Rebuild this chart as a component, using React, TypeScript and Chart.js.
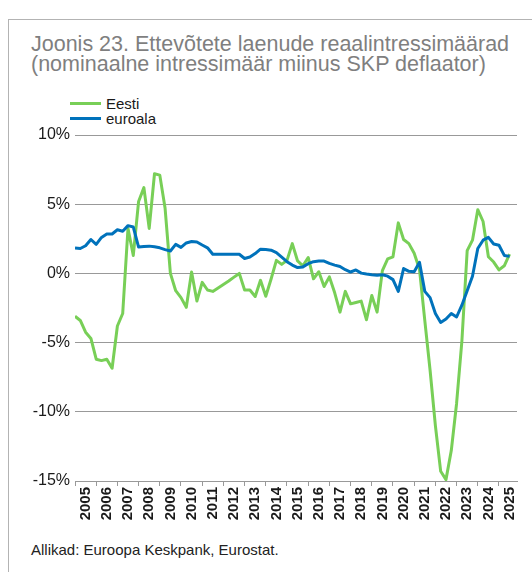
import React, { useEffect, useRef } from "react";
import { Chart, registerables } from "chart.js";

Chart.register(...registerables);

const startYear = 2005;

// Quarterly values, 2005Q1 .. 2025Q3 (%)
const eesti = [
  -3.1, -3.4, -4.25, -4.7,
  -6.2, -6.3, -6.2, -6.85,
  -3.8, -2.9, 3.25, 1.3,
  5.2, 6.2, 3.25, 7.2,
  7.1, 4.7, 0.0, -1.25,
  -1.75, -2.45, 0.1, -2.0,
  -0.65, -1.2, -1.3, -1.05,
  -0.8, -0.55, -0.27, 0.0,
  -1.2, -1.2, -1.67, -0.5,
  -1.65, -0.4, 0.94, 0.65,
  0.94, 2.15, 0.9, 0.55,
  1.15, -0.39, 0.12, -0.95,
  -0.25, -1.4, -2.8, -1.3,
  -2.2, -2.1, -2.0, -3.35,
  -1.6, -2.8, 0.2, 1.05,
  1.2, 3.65, 2.45, 2.15,
  1.45, 0.3, -3.4, -7.0,
  -11.0, -14.3, -14.9, -12.8,
  -9.4, -4.9, 1.65, 2.4,
  4.6, 3.75, 1.2, 0.82,
  0.25, 0.55, 1.4,
];

const euroala = [
  1.84, 1.8, 2.0, 2.45,
  2.1, 2.6, 2.85, 2.85,
  3.15, 3.05, 3.45, 3.35,
  1.9, 1.95, 1.97, 1.92,
  1.85, 1.72, 1.62, 2.1,
  1.88, 2.2, 2.3, 2.27,
  2.05, 1.85, 1.38, 1.38,
  1.38, 1.38, 1.38, 1.38,
  1.08, 1.18, 1.43, 1.75,
  1.72, 1.68, 1.5, 1.18,
  0.85, 0.6, 0.42, 0.47,
  0.7, 0.85, 0.89, 0.89,
  0.72, 0.6, 0.5, 0.27,
  0.1, 0.25, 0.02, -0.05,
  -0.1, -0.14, -0.1, -0.2,
  -0.45, -1.3, 0.35, 0.15,
  0.12, 0.8, -1.3, -1.75,
  -2.9, -3.55, -3.3, -2.9,
  -3.15, -2.3, -1.25, -0.2,
  1.8, 2.4, 2.6, 2.12,
  2.03, 1.3, 1.23,
];

const yearLabels = [
  "2005", "2006", "2007", "2008", "2009", "2010", "2011", "2012", "2013", "2014",
  "2015", "2016", "2017", "2018", "2019", "2020", "2021", "2022", "2023", "2024", "2025",
];

const yTicks = [-15, -10, -5, 0, 5, 10];

const seriesNames = ["Eesti", "euroala"];
const GREEN = "#78cf57";
const BLUE = "#0072bb";
const FONT = '"Liberation Sans", Arial, Helvetica, sans-serif';

const toPoints = (vals: number[]) =>
  vals.map((v, i) => ({ x: startYear + i / 4, y: v }));

export default function App() {
  const canvasRef = useRef<HTMLCanvasElement | null>(null);

  useEffect(() => {
    if (!canvasRef.current) return;
    const chart = new Chart(canvasRef.current, {
      type: "line",
      data: {
        datasets: [
          {
            label: seriesNames[0],
            data: toPoints(eesti),
            borderColor: GREEN,
            backgroundColor: GREEN,
            borderWidth: 3,
            pointRadius: 0,
            tension: 0,
            borderJoinStyle: "round",
            order: 1,
          },
          {
            label: seriesNames[1],
            data: toPoints(euroala),
            borderColor: BLUE,
            backgroundColor: BLUE,
            borderWidth: 3,
            pointRadius: 0,
            tension: 0,
            borderJoinStyle: "round",
            order: 0,
          },
        ],
      },
      options: {
        animation: false,
        responsive: false,
        maintainAspectRatio: false,
        layout: { padding: { top: 15, right: 15, left: 0, bottom: 0 } },
        plugins: { legend: { display: false }, tooltip: { enabled: false } },
        scales: {
          x: {
            type: "linear",
            min: startYear,
            max: 2025.85,
            afterBuildTicks: (scale: any) => {
              const t: { value: number }[] = [];
              yearLabels.forEach((_, i) => {
                t.push({ value: startYear + i });
                t.push({ value: startYear + i + 0.5 });
              });
              scale.ticks = t;
            },
            afterFit: (scale: any) => {
              scale.height = 59;
            },
            ticks: {
              autoSkip: false,
              minRotation: 90,
              maxRotation: 90,
              padding: 1,
              color: "#1a1a1a",
              font: { family: FONT, size: 15, weight: "bold" },
              callback: (v: any) => {
                const n = Number(v);
                if (Number.isInteger(n)) return "";
                return yearLabels[Math.floor(n) - startYear];
              },
            },
            grid: {
              drawOnChartArea: false,
              tickLength: 5,
              tickColor: (ctx: any) =>
                ctx.tick && Number.isInteger(ctx.tick.value) ? "#999999" : "rgba(0,0,0,0)",
              lineWidth: 1,
            },
            border: { display: true, color: "#999999", width: 1 },
          },
          y: {
            min: -15,
            max: 10,
            afterBuildTicks: (scale: any) => {
              scale.ticks = yTicks.map((v) => ({ value: v }));
            },
            afterFit: (scale: any) => {
              scale.width = 75;
            },
            ticks: {
              padding: 5,
              color: "#1a1a1a",
              font: { family: FONT, size: 16 },
              callback: (v: any) => `${v}%`,
            },
            grid: { color: "#999999", lineWidth: 1, drawTicks: false },
            border: { display: false },
          },
        },
      },
    } as any);
    return () => chart.destroy();
  }, []);

  return (
    <div
      style={{
        position: "absolute",
        left: 0,
        top: 0,
        width: 532,
        height: 572,
        overflow: "hidden",
        fontFamily: FONT,
        background: "#ffffff",
      }}
    >
      <div
        style={{
          position: "absolute",
          left: 8,
          top: 19,
          width: 530,
          height: 560,
          borderTop: "1px solid #b3b3b3",
          borderLeft: "1px solid #b3b3b3",
        }}
      />
      <div
        style={{
          position: "absolute",
          left: 31,
          top: 34,
          fontSize: 21.5,
          lineHeight: "20px",
          color: "#7f7f7f",
          whiteSpace: "nowrap",
        }}
      >
        <div>Joonis 23. Ettevõtete laenude reaalintressimäärad</div>
        <div>(nominaalne intressimäär miinus SKP deflaator)</div>
      </div>
      <div
        style={{
          position: "absolute",
          left: 70,
          top: 96,
          fontSize: 15,
          lineHeight: "15px",
          color: "#1a1a1a",
        }}
      >
        {seriesNames.map((name, i) => (
          <div key={name} style={{ display: "flex", alignItems: "center", height: 15 }}>
            <span
              style={{
                display: "inline-block",
                width: 31,
                height: 3,
                background: i === 0 ? GREEN : BLUE,
                marginRight: 5,
              }}
            />
            <span>{name}</span>
          </div>
        ))}
      </div>
      <div style={{ position: "absolute", left: 0, top: 120, width: 532, height: 420 }}>
        <canvas ref={canvasRef} width={532} height={420} style={{ width: 532, height: 420 }} />
      </div>
      <div
        style={{
          position: "absolute",
          left: 31,
          top: 541,
          fontSize: 15,
          lineHeight: "17px",
          color: "#222222",
          whiteSpace: "nowrap",
        }}
      >
        Allikad: Euroopa Keskpank, Eurostat.
      </div>
    </div>
  );
}
